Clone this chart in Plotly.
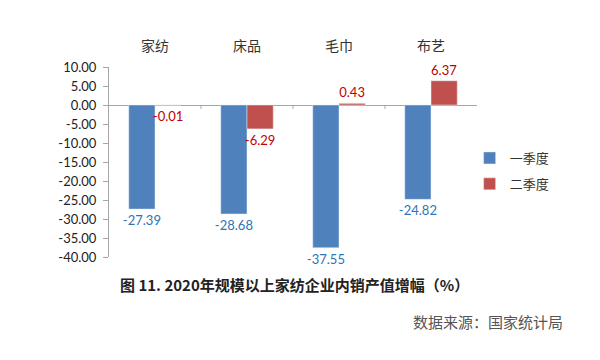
import plotly.graph_objects as go

categories = ["家纺", "床品", "毛巾", "布艺"]
q1_values = [-27.39, -28.68, -37.55, -24.82]
q2_values = [-0.01, -6.29, 0.43, 6.37]
series_names = ["一季度", "二季度"]
y_ticks = [10, 5, 0, -5, -10, -15, -20, -25, -30, -35, -40]
title_text = "图 11. 2020年规模以上家纺企业内销产值增幅（%）"
source_text = "数据来源：国家统计局"

fig = go.Figure()
fig.add_trace(go.Bar(
    x=categories, y=q1_values, name=series_names[0], legendgroup="a",
    marker=dict(color="#4f81bd"),
    text=[f"{v:.2f}" for v in q1_values], textposition="outside",
    constraintext="none",
    textfont=dict(color="#2e75b6", size=13, family="Lato, Open Sans, sans-serif"),
    cliponaxis=False,
))
fig.add_trace(go.Bar(
    x=categories, y=q2_values, name=series_names[1], legendgroup="b",
    marker=dict(color="#c0504d"),
    text=[f"{v:.2f}" for v in q2_values], textposition="outside",
    constraintext="none",
    textfont=dict(color="#c00000", size=13, family="Lato, Open Sans, sans-serif"),
    cliponaxis=False,
))

# category tick marks on the zero line
for i in range(1, len(categories)):
    fig.add_shape(type="line", xref="x", yref="y", x0=i - 0.5, x1=i - 0.5,
                  y0=0, y1=-1.0, line=dict(color="#a6a6a6", width=1))

fig.update_layout(
    width=600, height=360,
    margin=dict(l=101, r=131, t=59, b=111, autoexpand=False),
    paper_bgcolor="white", plot_bgcolor="white",
    barmode="group", bargap=0.43, bargroupgap=0,
    showlegend=True,
    legend=dict(x=0.98, y=0.6, xanchor="left", yanchor="top",
                font=dict(size=13, family="Noto Sans CJK SC", color="#333333"),
                itemwidth=30, tracegroupgap=6),
    xaxis=dict(side="top", showline=False, showgrid=False, ticks="",
               automargin=False, ticklabelstandoff=12,
               tickfont=dict(size=14, family="Noto Sans CJK SC", color="#333333"),
               range=[-0.5, 3.5]),
    yaxis=dict(range=[-40, 10], tickvals=y_ticks,
               ticktext=[f"{v:.2f}" for v in y_ticks], automargin=False,
               showgrid=False, showline=True, linecolor="#a6a6a6", linewidth=1,
               ticks="outside", ticklen=5, tickcolor="#a6a6a6", ticklabelstandoff=4,
               zeroline=True, zerolinecolor="#a6a6a6", zerolinewidth=1,
               tickfont=dict(size=13, family="Lato, Open Sans, sans-serif", color="#222222")),
    annotations=[
        dict(text="<b>" + title_text + "</b>", xref="paper", yref="paper",
             x=0.505, y=-0.147, xanchor="center", yanchor="middle", showarrow=False,
             font=dict(size=15, family="Noto Sans CJK SC", color="#222222")),
        dict(text=source_text, xref="paper", yref="paper",
             x=1.239, y=-0.342, xanchor="right", yanchor="middle", showarrow=False,
             font=dict(size=15, family="Noto Sans CJK SC", color="#555555")),
    ],
)

fig.write_html("out.html")
